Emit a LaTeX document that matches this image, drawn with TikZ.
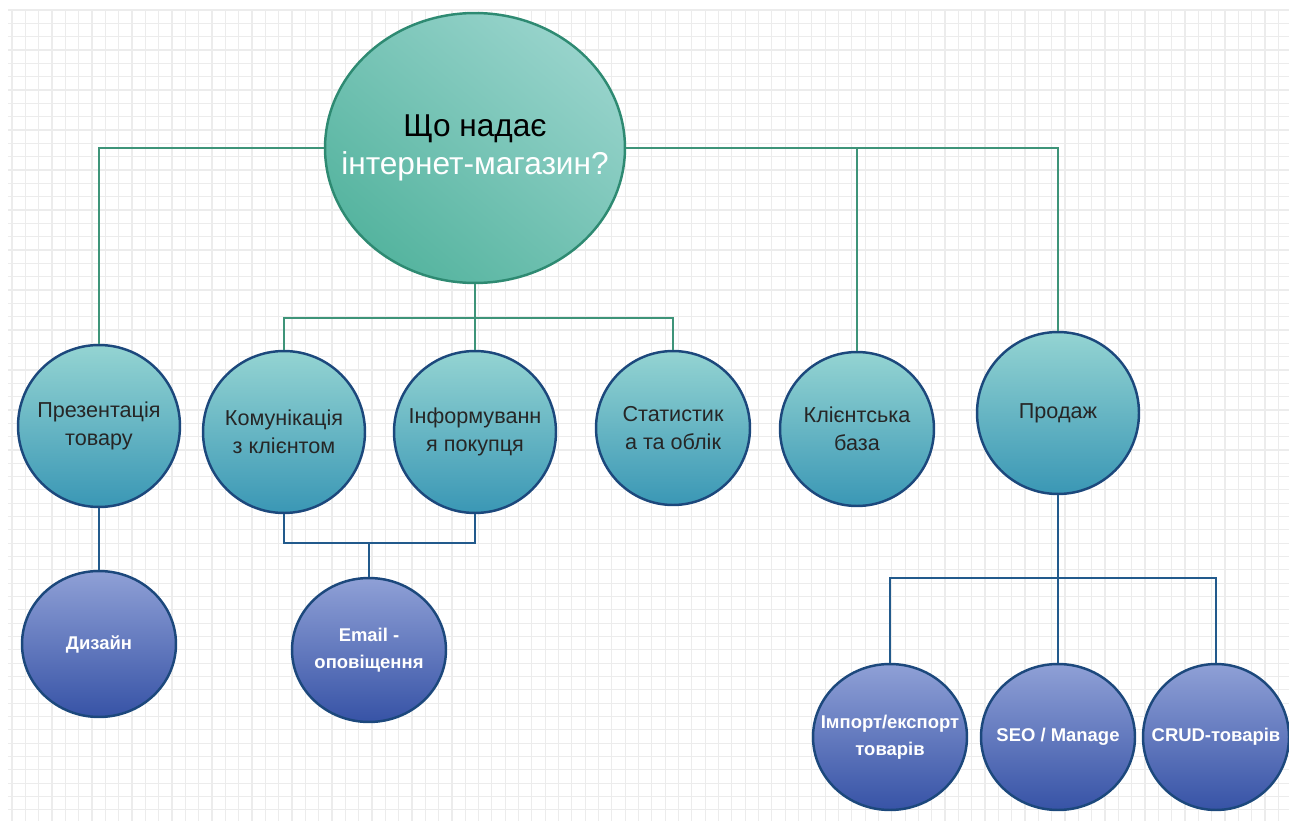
\documentclass[tikz,border=0pt]{standalone}
\usepackage{fontspec}
\setmainfont{Liberation Sans}
\usetikzlibrary{shapes.geometric}
\definecolor{raizclaro}{HTML}{97D3CB}
\definecolor{raizoscuro}{HTML}{55B49F}
\definecolor{raizborde}{HTML}{2E8A72}
\definecolor{lineauno}{HTML}{3E9479}
\definecolor{medioclaro}{HTML}{94D4D2}
\definecolor{mediooscuro}{HTML}{3A97B5}
\definecolor{borde}{HTML}{1C487C}
\definecolor{lineados}{HTML}{225A8C}
\definecolor{hojaclaro}{HTML}{8FA0D6}
\definecolor{hojaoscuro}{HTML}{3753A6}
\definecolor{rejilla}{HTML}{ECECEC}
\begin{document}
\begin{tikzpicture}[x=0.02cm, y=-0.02cm,
        raiz/.style={ellipse, draw=raizborde, line width=1.4pt, top color=raizclaro, bottom color=raizoscuro, shading angle=-40,
            minimum width=6cm, minimum height=5.4cm, inner xsep=-18pt, inner ysep=0pt, align=center, font=\fontsize{18}{21.5}\selectfont},
        medio/.style={circle, draw=borde, line width=1.4pt, top color=medioclaro, bottom color=mediooscuro,
            minimum size=3.24cm, inner sep=0pt, align=center, text=black!85, font=\fontsize{12.3}{16}\selectfont},
        hoja/.style={ellipse, draw=borde, line width=1.4pt, top color=hojaclaro, bottom color=hojaoscuro,
            minimum width=3.08cm, minimum height=2.92cm, inner xsep=-15pt, inner ysep=0pt, align=center, text=white,
            font=\bfseries\fontsize{10.5}{15.3}\selectfont},
        lraiz/.style={draw=lineauno, line width=1.1pt},
        lmedio/.style={draw=lineados, line width=1.1pt}]
    \useasboundingbox (0,0) rectangle (1289,821);
    % Rejilla
    \foreach \i in {0,...,95}
        \draw[rejilla, line width=0.7pt] ({12+13.33*\i},10) -- ({12+13.33*\i},821);
    \foreach \j in {0,...,60}
        \draw[rejilla, line width=0.7pt] (8,{10+13.33*\j}) -- (1289,{10+13.33*\j});

    % Nodos
    \node[raiz] (raiz) at (475,148) {Що надає\\\textcolor{white}{інтернет-магазин?}};
    \node[medio] (pres) at (99,426) {Презентація\\товару};
    \node[medio] (comun) at (284,432) {Комунікація\\з клієнтом};
    \node[medio] (inform) at (475,432) {Інформуванн\\я покупця};
    \node[medio, minimum size=3.08cm] (estad) at (673,428) {Статистик\\а та облік};
    \node[medio, minimum size=3.08cm] (base) at (857,429) {Клієнтська\\база};
    \node[medio] (venta) at (1058,413) {Продаж};
    \node[hoja] (diseno) at (99,644) {Дизайн};
    \node[hoja, minimum height=2.88cm] (email) at (369,650) {Email -\\оповіщення};
    \node[hoja] (import) at (890,737) {Імпорт/експорт\\товарів};
    \node[hoja] (seo) at (1058,737) {SEO / Manage};
    \node[hoja, minimum width=2.92cm] (crud) at (1216,737) {CRUD-товарів};

    % Conexiones de la raiz
    \coordinate (busa) at (475,318);
    \draw[lraiz] (raiz.west) -| (pres.north);
    \draw[lraiz] (raiz.east) -| (venta.north);
    \draw[lraiz] (base.north) -- (base.north |- raiz.east);
    \draw[lraiz] (raiz.south) -- (inform.north);
    \draw[lraiz] (comun.north) |- (busa) -| (estad.north);

    % Segundo nivel
    \coordinate (busb) at (369,543);
    \coordinate (busc) at (1058,578);
    \draw[lmedio] (pres.south) -- (diseno.north);
    \draw[lmedio] (comun.south) |- (busb) -| (inform.south);
    \draw[lmedio] (busb) -- (email.north);
    \draw[lmedio] (venta.south) -- (seo.north);
    \draw[lmedio] (import.north) |- (busc) -| (crud.north);
\end{tikzpicture}
\end{document}
